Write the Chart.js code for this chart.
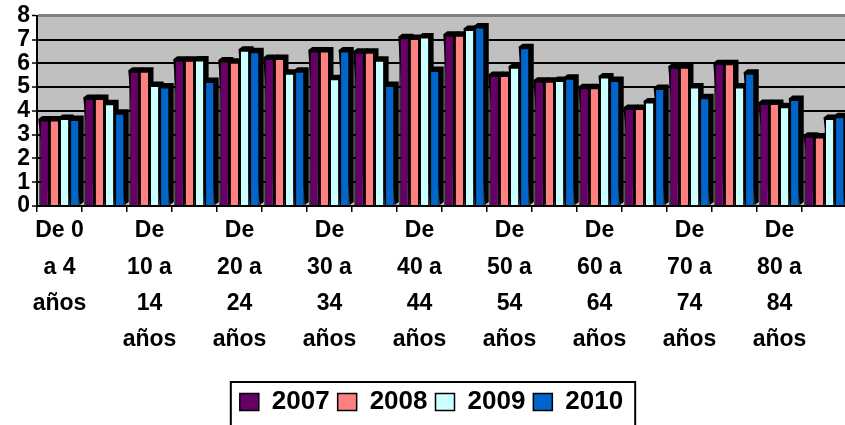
<!DOCTYPE html>
<html>
<head>
<meta charset="utf-8">
<script src="https://cdn.jsdelivr.net/npm/chart.js@4/dist/chart.umd.min.js"></script>
<style>
  html, body { margin: 0; padding: 0; background: #fff; overflow: hidden; }
  #wrap { width: 870px; height: 425px; position: relative; }
</style>
</head>
<body>
<div id="wrap"><canvas id="chart"></canvas></div>
<script>
/* global Chart */

// Age groups (every other label shown on the axis, as in the original)
const categories = [
  'De 0 a 4 años', 'De 5 a 9 años', 'De 10 a 14 años', 'De 15 a 19 años',
  'De 20 a 24 años', 'De 25 a 29 años', 'De 30 a 34 años', 'De 35 a 39 años',
  'De 40 a 44 años', 'De 45 a 49 años', 'De 50 a 54 años', 'De 55 a 59 años',
  'De 60 a 64 años', 'De 65 a 69 años', 'De 70 a 74 años', 'De 75 a 79 años',
  'De 80 a 84 años', 'De 85 y más años'
];

const years = ['2007', '2008', '2009', '2010'];

const values2007 = [3.62, 4.52, 5.67, 6.13, 6.10, 6.20, 6.52, 6.47, 7.08, 7.18, 5.49, 5.25, 4.97, 4.10, 5.84, 5.98, 4.31, 2.93];
const values2008 = [3.62, 4.52, 5.67, 6.13, 6.05, 6.20, 6.52, 6.47, 7.05, 7.18, 5.49, 5.25, 4.97, 4.10, 5.84, 5.98, 4.31, 2.90];
const values2009 = [3.68, 4.30, 5.07, 6.14, 6.55, 5.58, 5.35, 6.13, 7.11, 7.42, 5.84, 5.28, 5.43, 4.37, 5.01, 5.01, 4.17, 3.68];
const values2010 = [3.64, 3.90, 5.01, 5.24, 6.49, 5.67, 6.52, 5.07, 5.70, 7.53, 6.66, 5.37, 5.28, 4.94, 4.55, 5.58, 4.48, 3.75];

const yTicks = [0, 1, 2, 3, 4, 5, 6, 7, 8];

const COLORS = ['#660066', '#FF8080', '#CCFFFF', '#0066CC'];
const FAMILY = '"Liberation Sans", Arial, sans-serif';
const AXIS_FONT = { family: FAMILY, weight: 'bold', size: 23 };
const LEGEND_FONT = { family: FAMILY, weight: 'bold', size: 26 };

/* Wrap a label into short lines, like the narrow Excel category labels */
function wrapLabel(text, maxChars) {
  const lines = [];
  let cur = '';
  text.split(' ').forEach(w => {
    const next = cur ? cur + ' ' + w : w;
    if (next.length <= maxChars || !cur) cur = next;
    else { lines.push(cur); cur = w; }
  });
  if (cur) lines.push(cur);
  return lines;
}

/* Grey plot area */
const plotBg = {
  id: 'plotBg',
  beforeDraw(chart) {
    const { ctx, chartArea: a } = chart;
    ctx.save();
    ctx.fillStyle = '#C0C0C0';
    ctx.fillRect(a.left, a.top, a.right - a.left, a.bottom - a.top);
    ctx.restore();
  }
};

/* Fake 3D depth behind each column */
const depth = {
  id: 'depth',
  beforeDatasetsDraw(chart) {
    const ctx = chart.ctx;
    const d = 3;
    ctx.save();
    ctx.fillStyle = '#000';
    chart.data.datasets.forEach((ds, i) => {
      chart.getDatasetMeta(i).data.forEach(bar => {
        const { x, y, base, width } = bar.getProps(['x', 'y', 'base', 'width'], true);
        const l = x - width / 2, r = x + width / 2;
        ctx.beginPath();
        ctx.moveTo(l - 1, y - 1);
        ctx.lineTo(l + d, y - d - 1);
        ctx.lineTo(r + d + 1, y - d - 1);
        ctx.lineTo(r + d + 1, base - d);
        ctx.lineTo(r, base);
        ctx.closePath();
        ctx.fill();
      });
    });
    ctx.restore();
  }
};

/* Frame around the legend */
const legendFrame = {
  id: 'legendFrame',
  afterDraw(chart) {
    const boxes = chart.legend && chart.legend.legendHitBoxes;
    if (!boxes || !boxes.length) return;
    const left = Math.min(...boxes.map(b => b.left)) - 9;
    const right = Math.max(...boxes.map(b => b.left + b.width)) + 12;
    const top = 382;
    const ctx = chart.ctx;
    ctx.save();
    ctx.strokeStyle = '#000';
    ctx.lineWidth = 2;
    ctx.strokeRect(left, top, right - left, chart.height - top + 5);
    ctx.restore();
  }
};

const seriesValues = [values2007, values2008, values2009, values2010];

new Chart(document.getElementById('chart'), {
  type: 'bar',
  data: {
    labels: categories,
    datasets: years.map((y, i) => ({
      label: y,
      data: seriesValues[i],
      backgroundColor: COLORS[i],
      borderColor: '#000',
      borderWidth: 1.5,
      categoryPercentage: 0.9,
      barPercentage: 1.0
    }))
  },
  options: {
    responsive: true,
    maintainAspectRatio: false,
    animation: false,
    layout: { padding: { top: 15, right: 23, left: 16, bottom: 0 } },
    plugins: {
      tooltip: { enabled: false },
      legend: {
        position: 'bottom',
        labels: {
          color: '#000',
          font: LEGEND_FONT,
          boxWidth: 19,
          boxHeight: 17,
          padding: 8,
          generateLabels(chart) {
            return Chart.defaults.plugins.legend.labels.generateLabels(chart)
              .map(item => ({ ...item, lineWidth: 1.5 }));
          }
        }
      }
    },
    scales: {
      x: {
        afterFit(scale) { scale.height = 175; },
        grid: {
          offset: true,
          drawOnChartArea: false,
          drawTicks: true,
          tickLength: 6,
          color: '#000',
          lineWidth: 1.5
        },
        border: { display: true, color: '#000', width: 2 },
        ticks: {
          color: '#000',
          font: { ...AXIS_FONT, lineHeight: 1.57 },
          maxRotation: 0,
          autoSkip: false,
          padding: 1,
          callback(value, index) {
            return index % 2 === 0 ? wrapLabel(categories[index], 4) : '';
          }
        }
      },
      y: {
        min: yTicks[0],
        max: yTicks[yTicks.length - 1],
        afterFit(scale) { scale.width = 21; },
        afterBuildTicks(scale) { scale.ticks = yTicks.map(v => ({ value: v })); },
        grid: {
          color: ctx => (ctx.tick && ctx.tick.value === 8 ? '#808080' : '#000'),
          lineWidth: ctx => (ctx.tick && ctx.tick.value === 8 ? 3 : 2),
          tickColor: '#000',
          tickLength: 5,
          tickWidth: 1.5
        },
        border: { display: true, color: '#000', width: 2 },
        ticks: {
          color: '#000',
          font: AXIS_FONT,
          autoSkip: false,
          padding: 2
        }
      }
    }
  },
  plugins: [plotBg, depth, legendFrame]
});
</script>
</body>
</html>
